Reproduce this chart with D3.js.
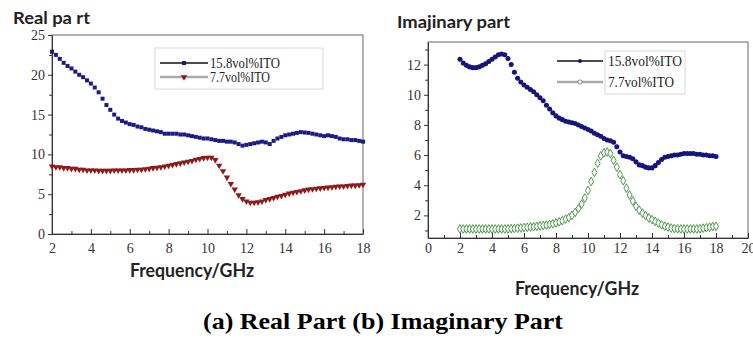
<!DOCTYPE html>
<html>
<head>
<meta charset="utf-8">
<script src="https://cdn.jsdelivr.net/npm/d3@7"></script>
<style>
  body { margin: 0; background: #fff; }
  .tick text { font-family: "Liberation Serif", "Times New Roman", serif; font-size: 14px; fill: #333; }
  .tick line { stroke: #333; }
  .domain { stroke: #333; }
</style>
</head>
<body>
<div id="chart"></div>
<script>
// frequency grid (GHz), shared by all four series
var freq = [2.0, 2.2, 2.4, 2.6, 2.8, 3.0, 3.2, 3.4, 3.6, 3.8, 4.0, 4.2, 4.4, 4.6, 4.8, 5.0, 5.2, 5.4, 5.6, 5.8,
    6.0, 6.2, 6.4, 6.6, 6.8, 7.0, 7.2, 7.4, 7.6, 7.8, 8.0, 8.2, 8.4, 8.6, 8.8, 9.0, 9.2, 9.4, 9.6, 9.8,
    10.0, 10.2, 10.4, 10.6, 10.8, 11.0, 11.2, 11.4, 11.6, 11.8, 12.0, 12.2, 12.4, 12.6, 12.8, 13.0, 13.2, 13.4, 13.6, 13.8,
    14.0, 14.2, 14.4, 14.6, 14.8, 15.0, 15.2, 15.4, 15.6, 15.8, 16.0, 16.2, 16.4, 16.6, 16.8, 17.0, 17.2, 17.4, 17.6, 17.8, 18.0];

// (a) real part
var real158 = [22.9, 22.5, 22.0, 21.5, 21.1, 20.8, 20.4, 20.0, 19.7, 19.3, 18.9, 18.4, 17.8, 17.0, 16.2, 15.6, 15.0, 14.5, 14.2, 14.0,
    13.8, 13.7, 13.5, 13.4, 13.2, 13.1, 13.0, 12.9, 12.8, 12.6, 12.6, 12.6, 12.6, 12.5, 12.5, 12.4, 12.3, 12.2, 12.1, 12.0,
    12.0, 11.9, 11.8, 11.7, 11.7, 11.6, 11.6, 11.5, 11.3, 11.1, 11.2, 11.3, 11.4, 11.5, 11.6, 11.5, 11.3, 11.7, 12.0, 12.2,
    12.4, 12.5, 12.6, 12.7, 12.8, 12.75, 12.7, 12.6, 12.5, 12.4, 12.3, 12.4, 12.3, 12.2, 12.0, 11.9, 11.9, 11.8, 11.8, 11.7, 11.6];
var real77 = [8.5, 8.4, 8.4, 8.3, 8.3, 8.2, 8.2, 8.1, 8.1, 8.0, 8.0, 8.0, 7.95, 7.95, 7.95, 7.95, 8.0, 8.0, 8.0, 8.0,
    8.05, 8.05, 8.1, 8.1, 8.15, 8.2, 8.3, 8.35, 8.4, 8.5, 8.6, 8.7, 8.8, 8.9, 9.0, 9.1, 9.2, 9.35, 9.45, 9.55,
    9.6, 9.6, 9.3, 8.6, 7.9, 7.1, 6.3, 5.6, 4.9, 4.4, 4.1, 3.95, 3.95, 4.0, 4.1, 4.3, 4.4, 4.55, 4.7, 4.8,
    4.95, 5.1, 5.2, 5.3, 5.4, 5.5, 5.6, 5.65, 5.7, 5.75, 5.8, 5.85, 5.9, 5.95, 6.0, 6.0, 6.05, 6.1, 6.1, 6.15, 6.2];

// (b) imaginary part
var imag158 = [12.35, 12.1, 11.95, 11.85, 11.8, 11.8, 11.85, 11.95, 12.05, 12.2, 12.35, 12.5, 12.65, 12.7, 12.65, 12.4, 12.0, 11.5, 11.1, 10.85,
    10.65, 10.5, 10.35, 10.2, 10.0, 9.8, 9.6, 9.3, 9.05, 8.8, 8.6, 8.45, 8.35, 8.25, 8.2, 8.15, 8.1, 8.0, 7.9, 7.8,
    7.7, 7.6, 7.45, 7.35, 7.25, 7.1, 7.0, 6.95, 6.85, 6.55, 6.2, 5.95, 5.9, 5.85, 5.75, 5.55, 5.35, 5.3, 5.2, 5.15,
    5.15, 5.3, 5.5, 5.7, 5.85, 5.9, 5.95, 6.0, 6.0, 6.05, 6.1, 6.1, 6.1, 6.1, 6.05, 6.05, 6.0, 6.0, 5.95, 5.95, 5.9];
var imag77 = [1.1, 1.1, 1.1, 1.1, 1.1, 1.1, 1.1, 1.1, 1.1, 1.1, 1.1, 1.1, 1.1, 1.1, 1.1, 1.1, 1.12, 1.13, 1.15, 1.17,
    1.19, 1.21, 1.23, 1.25, 1.27, 1.3, 1.33, 1.36, 1.4, 1.44, 1.5, 1.57, 1.65, 1.75, 1.85, 2.0, 2.2, 2.45, 2.75, 3.15,
    3.65, 4.25, 4.85, 5.45, 5.95, 6.15, 6.2, 6.1, 5.65, 5.2, 4.7, 4.3, 3.8, 3.35, 2.95, 2.6, 2.35, 2.15, 1.98, 1.83,
    1.72, 1.6, 1.48, 1.38, 1.28, 1.22, 1.16, 1.13, 1.11, 1.1, 1.1, 1.1, 1.1, 1.1, 1.1, 1.12, 1.15, 1.18, 1.22, 1.26, 1.28];

var realXTicks = [2, 4, 6, 8, 10, 12, 14, 16, 18];
var realYTicks = [0, 5, 10, 15, 20, 25];
var imagXTicks = [0, 2, 4, 6, 8, 10, 12, 14, 16, 18, 20];
var imagYTicks = [2, 4, 6, 8, 10, 12];
var legendNames = ["15.8vol%ITO", "7.7vol%ITO"];

var W = 753, H = 345;
var svg = d3.select("#chart").append("svg").attr("width", W).attr("height", H);
svg.append("rect").attr("width", W).attr("height", H).attr("fill", "#fff");

function minorBetween(ticks, step) {
    var out = [];
    for (var i = 0; i < ticks.length - 1; i++) out.push(ticks[i] + step);
    return out;
}

function panel(opt) {
    var g = svg.append("g");
    var x = d3.scaleLinear().domain(opt.xDomain).range(opt.xRange);
    var y = d3.scaleLinear().domain(opt.yDomain).range(opt.yRange);

    // frame
    g.append("rect")
        .attr("x", opt.xRange[0]).attr("y", opt.yRange[1])
        .attr("width", opt.xRange[1] - opt.xRange[0])
        .attr("height", opt.yRange[0] - opt.yRange[1])
        .attr("fill", "none").attr("stroke", "#666").attr("stroke-width", 1);

    // x axis, ticks pointing up into the plot
    g.append("g").attr("transform", "translate(0," + opt.yRange[0] + ")")
        .call(d3.axisBottom(x).tickValues(opt.xTicks).tickSizeInner(-5).tickSizeOuter(0)
            .tickPadding(opt.xPad).tickFormat(d3.format("d")));
    g.append("g").attr("transform", "translate(0," + opt.yRange[0] + ")")
        .call(d3.axisBottom(x).tickValues(minorBetween(opt.xTicks, opt.xMinor))
            .tickSizeInner(-3).tickSizeOuter(0).tickFormat(""))
        .select(".domain").remove();

    // y axis, ticks outside
    g.append("g").attr("transform", "translate(" + opt.xRange[0] + ",0)")
        .call(d3.axisLeft(y).tickValues(opt.yTicks).tickSizeInner(4).tickSizeOuter(0)
            .tickPadding(3).tickFormat(d3.format("d")));
    g.append("g").attr("transform", "translate(" + opt.xRange[0] + ",0)")
        .call(d3.axisLeft(y).tickValues(opt.yMinor).tickSizeInner(3).tickSizeOuter(0).tickFormat(""))
        .select(".domain").remove();

    // series
    opt.series.forEach(function (s) {
        g.append("g").selectAll("path").data(s.values).enter().append("path")
            .attr("d", d3.symbol().type(s.symbol).size(s.size))
            .attr("transform", function (d, i) {
                return "translate(" + x(freq[i]) + "," + y(d) + ")" + (s.flip ? " rotate(180)" : "");
            })
            .attr("fill", s.fill).attr("stroke", s.stroke).attr("stroke-width", s.strokeWidth || 0);
    });

    // titles
    g.append("text").attr("x", opt.title[1]).attr("y", opt.title[2])
        .attr("font-family", "Lato, 'Open Sans', sans-serif").attr("font-weight", "bold")
        .attr("font-size", 17).attr("fill", "#222")
        .attr("textLength", opt.title[3]).attr("lengthAdjust", "spacingAndGlyphs")
        .text(opt.title[0]);
    g.append("text").attr("x", opt.xTitle[0]).attr("y", opt.xTitle[1])
        .attr("text-anchor", "middle")
        .attr("font-family", "Lato, 'Open Sans', sans-serif").attr("font-weight", "bold")
        .attr("font-size", 19).attr("fill", "#222")
        .attr("textLength", 124).attr("lengthAdjust", "spacingAndGlyphs")
        .text("Frequency/GHz");

    // legend
    var lg = opt.legend;
    g.append("rect").attr("x", lg.box[0]).attr("y", lg.box[1])
        .attr("width", lg.box[2]).attr("height", lg.box[3])
        .attr("fill", "#fff").attr("stroke", "#d8d8d8");
    opt.series.forEach(function (s, i) {
        var yy = lg.rows[i];
        g.append("line").attr("x1", lg.line[0]).attr("x2", lg.line[1])
            .attr("y1", yy).attr("y2", yy)
            .attr("stroke", s.legendLine).attr("stroke-width", s.legendWidth);
        g.append("path")
            .attr("d", d3.symbol().type(s.legendSymbol || s.symbol).size(s.legendSize || s.size))
            .attr("transform", "translate(" + ((lg.line[0] + lg.line[1]) / 2) + "," + yy + ")" + (s.flip ? " rotate(180)" : ""))
            .attr("fill", s.legendFill || s.fill).attr("stroke", s.legendStroke || s.stroke)
            .attr("stroke-width", s.strokeWidth || 0);
        g.append("text").attr("x", lg.textX).attr("y", yy + 5)
            .attr("font-family", "'Liberation Serif', 'Times New Roman', serif")
            .attr("font-size", 14).attr("fill", "#222")
            .attr("textLength", legendNames[i].length > 10 ? lg.len[0] : lg.len[1])
            .attr("lengthAdjust", "spacingAndGlyphs")
            .text(legendNames[i]);
    });
}

panel({
    xDomain: [2, 18], xRange: [52, 363],
    yDomain: [0, 25], yRange: [234, 35],
    xTicks: realXTicks, xMinor: 1, xPad: 9,
    yTicks: realYTicks, yMinor: [2.5, 7.5, 12.5, 17.5, 22.5],
    title: ["Real pa rt", 13, 24, 77],
    xTitle: [192, 277],
    series: [
        { values: real158, symbol: d3.symbolSquare, size: 16, fill: "#1b1b86", stroke: "none",
          legendLine: "#111", legendWidth: 1.5 },
        { values: real77, symbol: d3.symbolTriangle, size: 18, flip: true, fill: "#8e1b1b", stroke: "none",
          legendLine: "#aaa", legendWidth: 2.5 }
    ],
    legend: { box: [155, 48, 168, 41], rows: [63, 77], line: [160, 208], textX: 210, len: [70, 60] }
});

panel({
    xDomain: [0, 20], xRange: [428, 748],
    yDomain: [0.5, 13.5], yRange: [238, 42],
    xTicks: imagXTicks, xMinor: 1, xPad: 5,
    yTicks: imagYTicks, yMinor: [1, 3, 5, 7, 9, 11, 13],
    title: ["Imajinary part", 397, 28, 113],
    xTitle: [577, 295],
    series: [
        { values: imag158, symbol: d3.symbolCircle, size: 20, fill: "#15157a", stroke: "none",
          legendLine: "#111", legendWidth: 1.5, legendSize: 14 },
        { values: imag77, symbol: d3.symbolDiamond, size: 22, fill: "#fff", stroke: "#4e9a4e", strokeWidth: 1,
          legendSymbol: d3.symbolCircle, legendSize: 14, legendStroke: "#888",
          legendLine: "#aaa", legendWidth: 2.5 }
    ],
    legend: { box: [605, 51, 80, 43], rows: [61, 82], line: [557, 603], textX: 608, len: [74, 66] }
});

// caption
svg.append("text").attr("x", 383).attr("y", 329).attr("text-anchor", "middle")
    .attr("font-family", "'Liberation Serif', 'Times New Roman', serif").attr("font-weight", "bold")
    .attr("font-size", 23).attr("fill", "#000")
    .attr("textLength", 360).attr("lengthAdjust", "spacingAndGlyphs")
    .text("(a) Real Part (b) Imaginary Part");
</script>
</body>
</html>
